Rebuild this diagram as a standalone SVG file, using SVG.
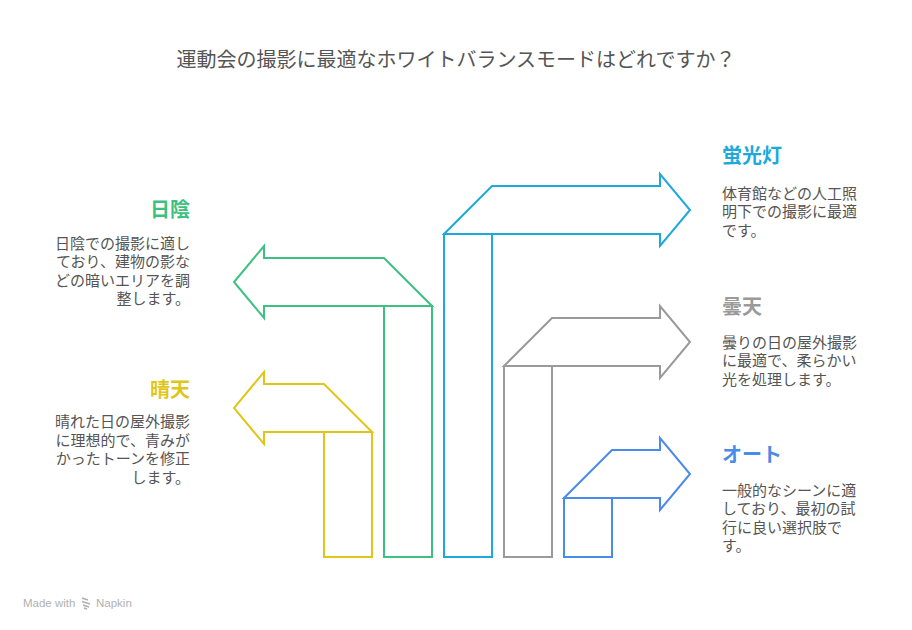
<svg xmlns="http://www.w3.org/2000/svg" width="912" height="630" viewBox="0 0 912 630">
<style>
text{font-family:"Noto Sans CJK JP","Noto Sans",sans-serif}
.title{font-size:20px;fill:#555;text-anchor:middle}
.h{font-size:20px;font-weight:bold}
.d{font-size:15px;fill:#555}
.l{text-anchor:end}
.shape{fill:none;stroke-width:2;stroke-linejoin:miter}
.y{stroke:#E0C619}.yt{fill:#E0C619}
.g{stroke:#3DC180}.gt{fill:#3DC180}
.c{stroke:#1EA9DC}.ct{fill:#1EA9DC}
.s{stroke:#9A9A9A}.st{fill:#9A9A9A}
.b{stroke:#4A8AE8}.bt{fill:#4A8AE8}
.foot{font-family:"Liberation Sans",Arial,sans-serif;font-size:11.5px;fill:#B0B0B0}
</style>
<rect width="912" height="630" fill="#fff"/>
<text class="title" x="456" y="67">運動会の撮影に最適なホワイトバランスモードはどれですか？</text>

<g id="connectors"></g>

<g id="node-hare">
<path class="shape y" d="M372,432 L324,384 L264,384 L264,372 L234,408 L264,444 L264,432 Z"/>
<rect class="shape y" x="324" y="432" width="48" height="125"/>
<text class="h yt l" x="190" y="396.5">晴天</text>
<text class="d l"><tspan x="190" y="427">晴れた日の屋外撮影</tspan><tspan x="190" y="445.5">に理想的で、青みが</tspan><tspan x="190" y="464">かったトーンを修正</tspan><tspan x="190" y="482.5">します。</tspan></text>
</g>

<g id="node-hikage">
<path class="shape g" d="M432,306 L384,258 L264,258 L264,246 L234,282 L264,318 L264,306 Z"/>
<rect class="shape g" x="384" y="306" width="48" height="251"/>
<text class="h gt l" x="190" y="217">日陰</text>
<text class="d l"><tspan x="190" y="248.5">日陰での撮影に適し</tspan><tspan x="190" y="267">ており、建物の影な</tspan><tspan x="190" y="285.5">どの暗いエリアを調</tspan><tspan x="190" y="304">整します。</tspan></text>
</g>

<g id="node-keikoutou">
<path class="shape c" d="M444,234 L492,186 L660,186 L660,174 L690,210 L660,246 L660,234 Z"/>
<rect class="shape c" x="444" y="234" width="48" height="323"/>
<text class="h ct" x="722" y="163">蛍光灯</text>
<text class="d"><tspan x="722" y="198.5">体育館などの人工照</tspan><tspan x="722" y="217">明下での撮影に最適</tspan><tspan x="722" y="235.5">です。</tspan></text>
</g>

<g id="node-donten">
<path class="shape s" d="M504,366 L552,318 L660,318 L660,306 L690,342 L660,378 L660,366 Z"/>
<rect class="shape s" x="504" y="366" width="48" height="191"/>
<text class="h st" x="722" y="314">曇天</text>
<text class="d"><tspan x="722" y="347.5">曇りの日の屋外撮影</tspan><tspan x="722" y="366">に最適で、柔らかい</tspan><tspan x="722" y="384.5">光を処理します。</tspan></text>
</g>

<g id="node-auto">
<path class="shape b" d="M564,498 L612,450 L660,450 L660,438 L690,474 L660,510 L660,498 Z"/>
<rect class="shape b" x="564" y="498" width="48" height="59"/>
<text class="h bt" x="722" y="462">オート</text>
<text class="d"><tspan x="722" y="496">一般的なシーンに適</tspan><tspan x="722" y="514.4">しており、最初の試</tspan><tspan x="722" y="532.8">行に良い選択肢で</tspan><tspan x="722" y="551.2">す。</tspan></text>
</g>

<g id="footer">
<text class="foot" x="23" y="607">Made with</text>
<path d="M82,598 L88,600 M82,601.5 L90,604 M83,605 L89,607 M84,608 L87,609" stroke="#B0B0B0" stroke-width="1.6" fill="none"/>
<text class="foot" x="96" y="607">Napkin</text>
</g>
</svg>
